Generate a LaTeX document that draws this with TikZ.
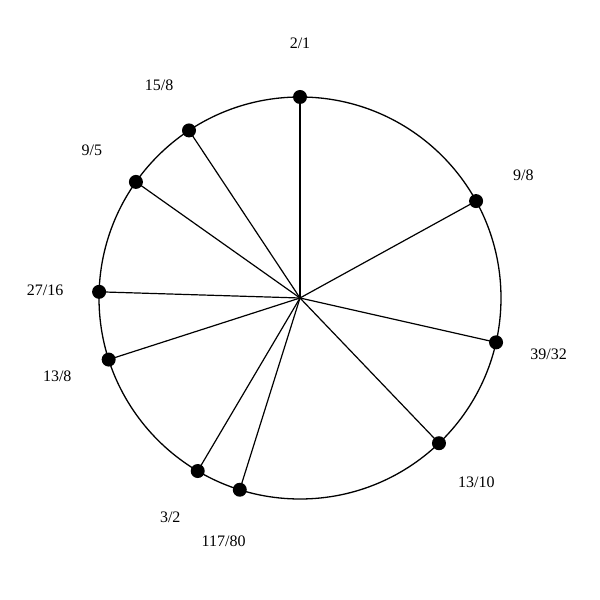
\documentclass[tikz,border=0pt]{standalone}
\usepackage{fontspec}
\setmainfont{Liberation Serif}
\begin{document}
\begin{tikzpicture}[x=1pt,y=1pt,
  dot/.style={circle,fill=black,inner sep=0pt,minimum size=14pt},
  lbl/.style={font=\fontsize{16}{18}\selectfont,inner sep=0pt},
  spoke/.style={line width=1.2pt},
  rim/.style={line width=1.3pt}]
\useasboundingbox (0,0) rectangle (600,600);
\coordinate (c) at (300,302);
\draw[rim] (c) circle (201);
\foreach \ang/\txt/\nm in {90/2\slash 1/a,28.83/9\slash 8/b,-12.75/39\slash 32/d,-46.26/13\slash 10/e,-107.44/117\slash 80/f,-120.59/3\slash 2/g,-162.16/13\slash 8/h,-181.76/27\slash 16/i,-215.28/9\slash 5/j,-236.48/15\slash 8/k}{
  \path (c) ++(\ang:201) node[dot] (p\nm) {};
  \path (c) ++(\ang:255) node[lbl] (l\nm) {\txt};
  \draw[spoke] (c) -- (p\nm.center);
}
\end{tikzpicture}
\end{document}
